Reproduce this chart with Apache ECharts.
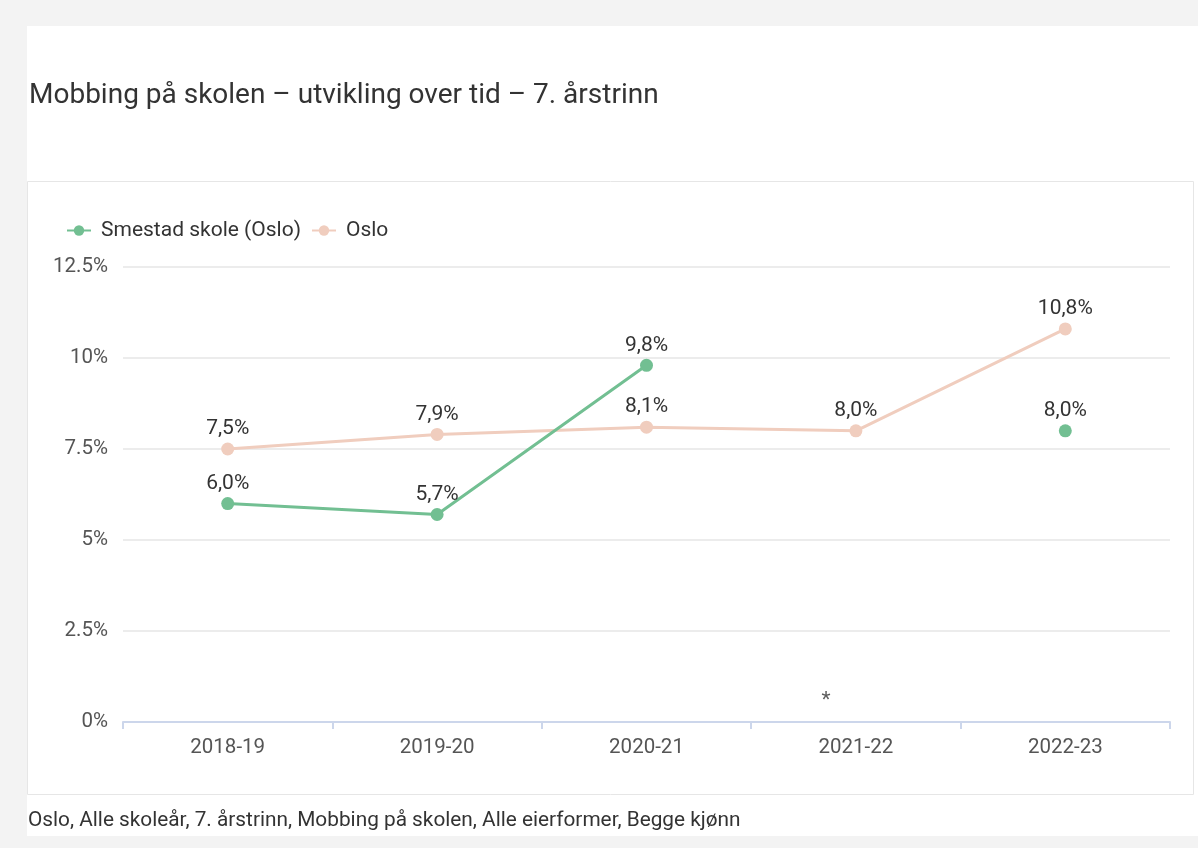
<!DOCTYPE html>
<html><head><meta charset="utf-8">
<script src="https://cdn.jsdelivr.net/npm/echarts@6/dist/echarts.min.js"></script>
<style>html,body{margin:0;padding:0;background:#f3f3f3;}#c{width:1198px;height:848px;}</style>
</head><body><div id="c"></div>
<script>
const categories = ['2018-19', '2019-20', '2020-21', '2021-22', '2022-23'];
const smestad = [6.0, 5.7, 9.8, null, 8.0];
const oslo = [7.5, 7.9, 8.1, 8.0, 10.8];
const missingMarks = [null, null, null, 0, null];
const yTicks = { min: 0, max: 12.5, interval: 2.5 };
const titleText = 'Mobbing på skolen – utvikling over tid – 7. årstrinn';
const footerText = 'Oslo, Alle skoleår, 7. årstrinn, Mobbing på skolen, Alle eierformer, Begge kjønn';
const seriesNames = ['Smestad skole (Oslo)', 'Oslo'];

const FONT = 'Roboto, "Noto Sans", sans-serif';
const fmt = v => v.toFixed(1).replace('.', ',') + '%';
const chart = echarts.init(document.getElementById('c'));
const labelCfg = { show: true, position: 'top', distance: 3, color: '#333', fontSize: 21, fontFamily: FONT, formatter: p => fmt(p.value) };
chart.setOption({
  backgroundColor: '#f3f3f3',
  animation: false,
  graphic: [
    { type: 'rect', z: -10, shape: { x: 27, y: 26, width: 1171, height: 810 }, style: { fill: '#ffffff' } },
    { type: 'rect', z: -9, shape: { x: 27.5, y: 181.5, width: 1166, height: 613 }, style: { fill: '#ffffff', stroke: '#e6e6e6', lineWidth: 1 } },
    { type: 'text', left: 28, top: 810, style: { text: footerText, font: '20.8px ' + FONT, fill: '#333' } }
  ],
  title: { text: titleText, left: 24, top: 77, textStyle: { fontSize: 28, fontWeight: 'normal', color: '#333', fontFamily: FONT } },
  legend: {
    data: seriesNames, left: 61, top: 215, itemWidth: 24, itemHeight: 13, itemGap: 10,
    textStyle: { fontSize: 21, color: '#333', fontFamily: FONT, padding: [0, 0, 0, 5] }
  },
  grid: { left: 123, right: 28, top: 267, bottom: 126 },
  xAxis: {
    type: 'category', data: categories, boundaryGap: true,
    axisLine: { lineStyle: { color: '#ccd6eb', width: 2 } },
    axisTick: { show: true, length: 7, lineStyle: { color: '#ccd6eb', width: 2 } },
    axisLabel: { color: '#555', fontSize: 20.5, fontFamily: FONT, margin: 15 }
  },
  yAxis: {
    type: 'value', min: yTicks.min, max: yTicks.max, interval: yTicks.interval,
    axisLine: { show: false }, axisTick: { show: false },
    axisLabel: { color: '#555', fontSize: 20.5, fontFamily: FONT, margin: 15, formatter: v => v + '%' },
    splitLine: { lineStyle: { color: '#e6e6e6', width: 1.5 } }
  },
  series: [
    { name: seriesNames[0], type: 'line', data: smestad, color: '#72bf92', symbol: 'circle', symbolSize: 13,
      lineStyle: { width: 3 }, label: labelCfg, z: 3 },
    { name: seriesNames[1], type: 'line', data: oslo, color: '#f0cdbe', symbol: 'circle', symbolSize: 13,
      lineStyle: { width: 3 }, label: labelCfg, z: 2 },
    { name: 'missing', type: 'scatter', data: missingMarks, symbolSize: 1, itemStyle: { color: 'transparent' },
      label: { show: true, position: 'top', distance: 10, offset: [-30, 0], formatter: '*', color: '#333', fontSize: 21, fontFamily: FONT } }
  ]
});
</script></body></html>
